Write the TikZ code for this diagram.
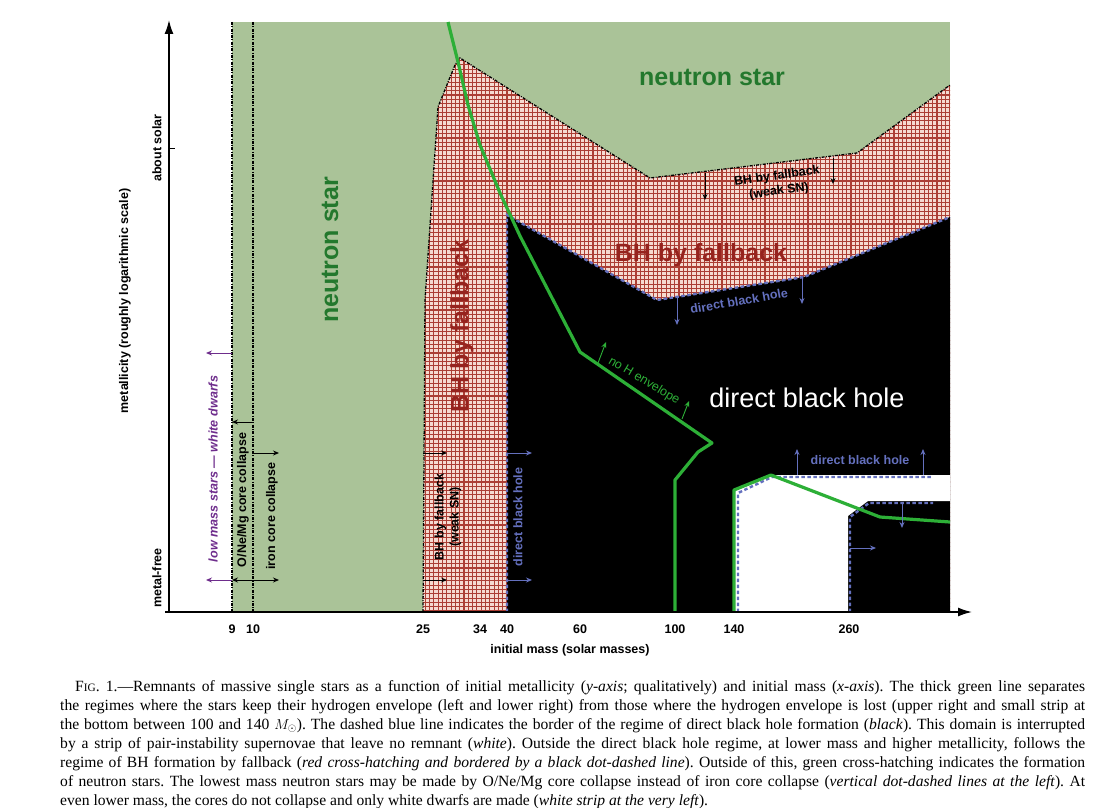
\documentclass[tikz,border=0pt]{standalone}
\usepackage{fontspec}
\setmainfont{Liberation Serif}
\newfontfamily\helv{Liberation Sans}
\usetikzlibrary{arrows.meta}

\definecolor{nsgreen}{RGB}{170,195,152}
\definecolor{nstext}{RGB}{35,120,45}
\definecolor{fbpink}{RGB}{246,218,208}
\definecolor{fbgrid}{RGB}{172,62,52}
\definecolor{fbtext}{RGB}{150,35,30}
\definecolor{dbblue}{RGB}{100,112,190}
\definecolor{envgreen}{RGB}{45,175,55}
\definecolor{wdpurple}{RGB}{110,45,140}

\newcommand{\fallbackpath}{(423,612) -- (425,300) -- (438,107) -- (455,65) -- (460,58) -- (650,178) -- (857,153) -- (950,85) -- (950,612) -- cycle}
\newcommand{\directpath}{(507,612) -- (507,215) -- (657,300) -- (804,277) -- (950,217) -- (950,612) -- cycle}
\newcommand{\pairpath}{(734,612) -- (734,490) -- (771,475) -- (950,475) -- (950,501) -- (868,501) -- (848,516) -- (848,612) -- cycle}

\tikzset{
  txt/.style={font=\helv\bfseries\fontsize{12.5}{15}\selectfont, inner sep=0pt},
  bigtxt/.style={font=\helv\bfseries\fontsize{25}{28}\selectfont, inner sep=0pt},
  arr/.style={-{Stealth[length=6pt,width=5pt]}, line width=0.9pt},
  dotdash/.style={line width=1.3pt, dash pattern=on 3pt off 1.3pt on 1pt off 1.3pt},
  bluedash/.style={dbblue, line width=2.4pt, dash pattern=on 3.5pt off 2.5pt},
  hline/.style={envgreen, line width=3.2pt, line join=round},
  axis/.style={line width=1.5pt, -{Latex[length=14pt,width=9pt]}},
  capline/.style={anchor=base west, inner sep=0pt, font=\frenchspacing\fontsize{15.6}{19}\selectfont}
}

\begin{document}
\begin{tikzpicture}[x=1pt, y=-1pt]
\useasboundingbox (0,0) rectangle (1098,808);

% regions
\fill[nsgreen] (232,22) rectangle (950,612);
\fill[fbpink] \fallbackpath;
\begin{scope}
  \clip \fallbackpath;
  \foreach \gx in {421,425.3,...,952} \draw[fbgrid, line width=1.1pt] (\gx,50) -- (\gx,612);
  \foreach \gy in {52,56.3,...,612} \draw[fbgrid, line width=1.1pt] (420,\gy) -- (952,\gy);
\end{scope}
\fill[black] \directpath;
\fill[white] \pairpath;

% borders
\draw[dotdash] (232,22) -- (232,612);
\draw[dotdash] (253,22) -- (253,612);
\draw[dotdash] (423,612) -- (425,300) -- (438,107) -- (455,65) -- (460,58) -- (650,178) -- (857,153) -- (950,85);
\draw[bluedash] (507,612) -- (507,215) -- (657,300) -- (804,277) -- (950,217);
\draw[bluedash] (738,612) -- (738,493) -- (772,477) -- (933,477);
\draw[bluedash] (850,612) -- (850,517) -- (869,503) -- (933,503);

% hydrogen envelope line
\draw[hline] (448,22) -- (458,62) -- (468,105) -- (480,145) -- (500,193) -- (520,236) -- (580,352) -- (712,443) -- (698,452) -- (675,480) -- (675,612);
\draw[hline] (734,612) -- (734,490) -- (771,475) -- (880,517) -- (950,522);

% axes
\draw[axis] (165,612) -- (972,612);
\draw[axis] (169,612) -- (169,20);
\draw[line width=1pt] (169,148) -- (175,148);

% small arrows
\draw[arr, wdpurple] (232,353) -- (206,353);
\draw[arr, wdpurple] (232,580) -- (206,580);
\draw[arr, {Stealth[length=6pt,width=5pt]}-] (232,422) -- (253,422);
\draw[arr, {Stealth[length=6pt,width=5pt]}-] (232,580) -- (253,580);
\draw[arr] (253,453) -- (279,453);
\draw[arr] (253,580) -- (279,580);
\draw[arr] (423,453) -- (447,453);
\draw[arr] (423,580) -- (447,580);
\draw[arr, dbblue] (507,453) -- (532,453);
\draw[arr, dbblue] (507,580) -- (532,580);
\draw[arr] (705,173) -- (705,200);
\draw[arr] (833,158) -- (833,184);
\draw[arr, dbblue] (677,298) -- (677,325);
\draw[arr, dbblue] (802,278) -- (802,304);
\draw[arr, envgreen] (598,363) -- (606,342);
\draw[arr, envgreen] (682,419) -- (689,401);
\draw[arr, dbblue] (797,475) -- (797,449);
\draw[arr, dbblue] (923,475) -- (923,449);
\draw[arr, dbblue] (902,502) -- (902,528);
\draw[arr, dbblue] (850,548) -- (876,548);

% region labels
\node[bigtxt, nstext] (nsTop) at (712,77) {neutron star};
\node[bigtxt, nstext, rotate=90] (nsLeft) at (330,250) {neutron star};
\node[bigtxt, fbtext, rotate=90] (fbLeft) at (462,326) {BH by fallback};
\node[bigtxt, fbtext] (fbMid) at (701,255) {BH by fallback};
\node[font=\helv\fontsize{27}{30}\selectfont, white, inner sep=0pt] (dbhBig) at (807,398) {direct black hole};
\node[txt, rotate=8, align=center] (fbWeak) at (778,184) {BH by fallback\\(weak SN)};
\node[txt, dbblue, rotate=10] (dbhUp) at (739,301) {direct black hole};
\node[txt, dbblue] (dbhLow) at (860,460) {direct black hole};
\node[font=\helv\fontsize{12.5}{14}\selectfont, envgreen, rotate=-31, inner sep=0pt] (noH) at (644,381) {no H envelope};
\node[txt, rotate=90] (oneMg) at (243,500) {O/Ne/Mg core collapse};
\node[txt, rotate=90] (ironCC) at (272,516) {iron core collapse};
\node[txt, rotate=90, align=center] (fbWeakL) at (448,517) {BH by fallback\\(weak SN)};
\node[txt, dbblue, rotate=90] (dbhLeft) at (518,517) {direct black hole};
\node[font=\helv\bfseries\itshape\fontsize{12.6}{15}\selectfont, wdpurple, rotate=90, inner sep=0pt] (wdwarf) at (213,469) {low mass stars — white dwarfs};

% axis labels
\node[txt, rotate=90] (ylabel) at (125,301) {metallicity (roughly logarithmic scale)};
\node[txt, rotate=90] (solar) at (157,148) {about solar};
\node[txt, rotate=90] (metalfree) at (157,578) {metal-free};
\node[txt] (xlabel) at (570,650) {initial mass (solar masses)};
\foreach \m/\px in {9/232, 10/253, 25/423, 34/480, 40/507, 60/580, 100/675, 140/734, 260/849}
  \node[txt] (tick\m) at (\px,629) {\m};

% caption
\node[capline] (cap1) at (75,691) {\makebox[1010pt][s]{F{\fontsize{11.3}{19}\selectfont IG}. 1.—Remnants of massive single stars as a function of initial metallicity (\textit{y-axis}; qualitatively) and initial mass (\textit{x-axis}). The thick green line separates}};
\node[capline] (cap2) at (60,710) {\makebox[1025pt][s]{the regimes where the stars keep their hydrogen envelope (left and lower right) from those where the hydrogen envelope is lost (upper right and small strip at}};
\node[capline] (cap3) at (60,729) {\makebox[1025pt][s]{the bottom between 100 and 140 $M_{\odot}$). The dashed blue line indicates the border of the regime of direct black hole formation (\textit{black}). This domain is interrupted}};
\node[capline] (cap4) at (60,748) {\makebox[1025pt][s]{by a strip of pair-instability supernovae that leave no remnant (\textit{white}). Outside the direct black hole regime, at lower mass and higher metallicity, follows the}};
\node[capline] (cap5) at (60,767) {\makebox[1025pt][s]{regime of BH formation by fallback (\textit{red cross-hatching and bordered by a black dot-dashed line}). Outside of this, green cross-hatching indicates the formation}};
\node[capline] (cap6) at (60,786) {\makebox[1025pt][s]{of neutron stars. The lowest mass neutron stars may be made by O/Ne/Mg core collapse instead of iron core collapse (\textit{vertical dot-dashed lines at the left}). At}};
\node[capline] (cap7) at (60,805) {even lower mass, the cores do not collapse and only white dwarfs are made (\textit{white strip at the very left}).};
\end{tikzpicture}
\end{document}
